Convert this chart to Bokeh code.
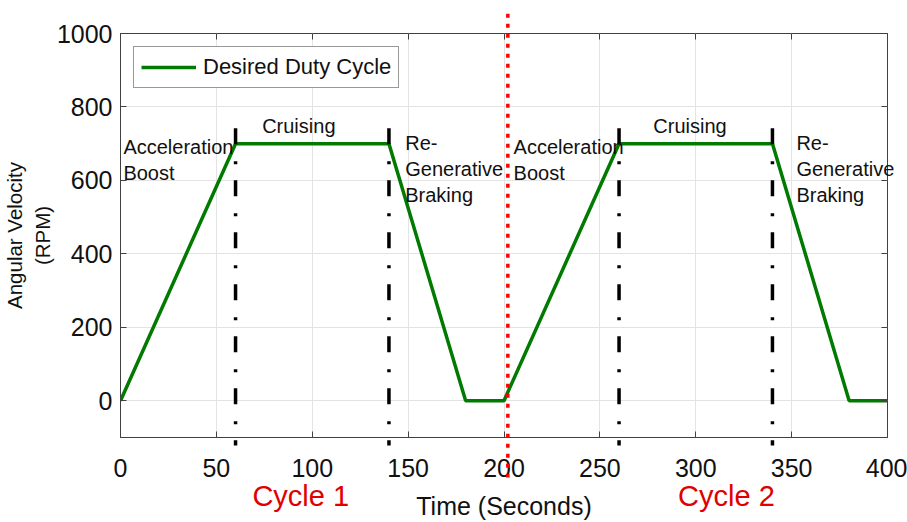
from bokeh.plotting import figure
from bokeh.models import (Range1d, LinearAxis, FixedTicker, ColumnDataSource,
                          Legend, LegendItem)
from bokeh.core.properties import value
from bokeh.embed import file_html
from bokeh.resources import INLINE

# ---- data ----
time_s = [0, 60, 140, 180, 200, 260, 340, 380, 400]
rpm = [0, 700, 700, 0, 0, 700, 700, 0, 0]

phase_x = [60, 140, 260, 340]
phase_top = [742, 742, 742, 742]
phase_bottom = [-122, -122, -122, -122]

split_x = [202]
split_top = [1054]
split_bottom = [-209]

note_x = [1.5, 1.5, 93, 148.5, 148.5, 148.5, 205, 205, 297, 352.5, 352.5, 352.5]
note_y = [690, 620, 747, 701, 630, 560, 690, 620, 747, 701, 630, 560]
note_text = ["Acceleration", "Boost", "Cruising", "Re-", "Generative", "Braking",
             "Acceleration", "Boost", "Cruising", "Re-", "Generative", "Braking"]
note_align = ["left", "left", "center", "left", "left", "left",
              "left", "left", "center", "left", "left", "left"]

cycle_x = [94, 316]
cycle_text = ["Cycle 1", "Cycle 2"]

x_ticks = [0, 50, 100, 150, 200, 250, 300, 350, 400]
y_ticks = [0, 200, 400, 600, 800, 1000]

FONT = "Liberation Sans"

p = figure(width=907, height=522, output_backend="svg", toolbar_location=None,
           x_range=Range1d(0, 400), y_range=Range1d(-100, 1000),
           min_border_left=120, min_border_right=20, min_border_top=33, min_border_bottom=85)
p.background_fill_color = "white"
p.border_fill_color = "white"
p.outline_line_color = "#404040"
p.outline_line_width = 1

line = p.line(time_s, rpm, line_color="#007a00", line_width=3.5)

# axes styling
for ax, ticks in ((p.xaxis[0], x_ticks), (p.yaxis[0], y_ticks)):
    ax.ticker = FixedTicker(ticks=ticks)
    ax.major_tick_in = 6
    ax.major_tick_out = 0
    ax.minor_tick_line_color = None
    ax.major_tick_line_color = "#404040"
    ax.axis_line_color = "#404040"
    ax.major_label_text_font = FONT
    ax.major_label_text_font_size = "25px"
    ax.major_label_text_color = "#111111"
    ax.axis_label_text_font = FONT
    ax.axis_label_text_font_style = "normal"
    ax.axis_label_text_color = "#111111"

p.xaxis[0].major_label_standoff = 21
p.yaxis[0].major_label_standoff = 8
p.yaxis[0].axis_label = "Angular Velocity\n(RPM)"
p.yaxis[0].axis_label_text_font_size = "20.5px"
p.yaxis[0].axis_label_standoff = 0

# second bottom axis: cycle names (red) + axis title
cyc_axis = LinearAxis(ticker=FixedTicker(ticks=cycle_x),
                      major_label_overrides={cycle_x[0]: cycle_text[0], cycle_x[1]: cycle_text[1]})
cyc_axis.axis_line_color = None
cyc_axis.major_tick_line_color = None
cyc_axis.minor_tick_line_color = None
cyc_axis.major_tick_in = 0
cyc_axis.major_tick_out = 0
cyc_axis.major_label_standoff = 0
cyc_axis.major_label_text_font = FONT
cyc_axis.major_label_text_font_size = "29px"
cyc_axis.major_label_text_color = "#e00000"
cyc_axis.axis_label = "Time (Seconds)"
cyc_axis.axis_label_text_font = FONT
cyc_axis.axis_label_text_font_style = "normal"
cyc_axis.axis_label_text_font_size = "25px"
cyc_axis.axis_label_text_color = "#111111"
cyc_axis.axis_label_standoff = -23
p.add_layout(cyc_axis, "below")

# tick-only mirror axes (box style)
for loc, ticks in (("right", y_ticks), ("above", x_ticks)):
    ax = LinearAxis(ticker=FixedTicker(ticks=ticks))
    ax.major_tick_in = 6
    ax.major_tick_out = 0
    ax.minor_tick_line_color = None
    ax.major_tick_line_color = "#404040"
    ax.axis_line_color = None
    ax.major_label_text_font_size = "0px"
    ax.major_label_text_color = None
    ax.major_label_standoff = 0
    p.add_layout(ax, loc)

p.xgrid.ticker = FixedTicker(ticks=x_ticks)
p.ygrid.ticker = FixedTicker(ticks=y_ticks)
p.grid.grid_line_color = "#e3e3e3"
p.grid.grid_line_width = 1

# phase separators (dash-dot, black)
p.segment(x0=phase_x, y0=phase_top, x1=phase_x, y1=phase_bottom, line_color="black",
          line_width=3.5, line_dash="16 17 3 16", level="overlay")

# cycle separator (red dotted)
p.segment(x0=split_x, y0=split_top, x1=split_x, y1=split_bottom, line_color="#ff0000",
          line_width=3.5, line_dash="4 6", level="overlay")

# phase notes
note_src = ColumnDataSource(dict(x=note_x, y=note_y, text=note_text, align=note_align))
p.text(x="x", y="y", text="text", source=note_src, text_align="align", text_baseline="middle",
       text_font=value(FONT), text_font_size="20px", text_color="#111111", level="overlay")

legend = Legend(items=[LegendItem(label="Desired Duty Cycle", renderers=[line])],
                location="top_left", margin=13, padding=7, glyph_width=55, glyph_height=20,
                label_standoff=7, label_text_font=FONT, label_text_font_size="22px",
                label_text_color="#111111", border_line_color="#333333", border_line_width=1,
                background_fill_color="white", background_fill_alpha=1)
p.add_layout(legend)

open("out.html", "w").write(file_html(p, INLINE))
